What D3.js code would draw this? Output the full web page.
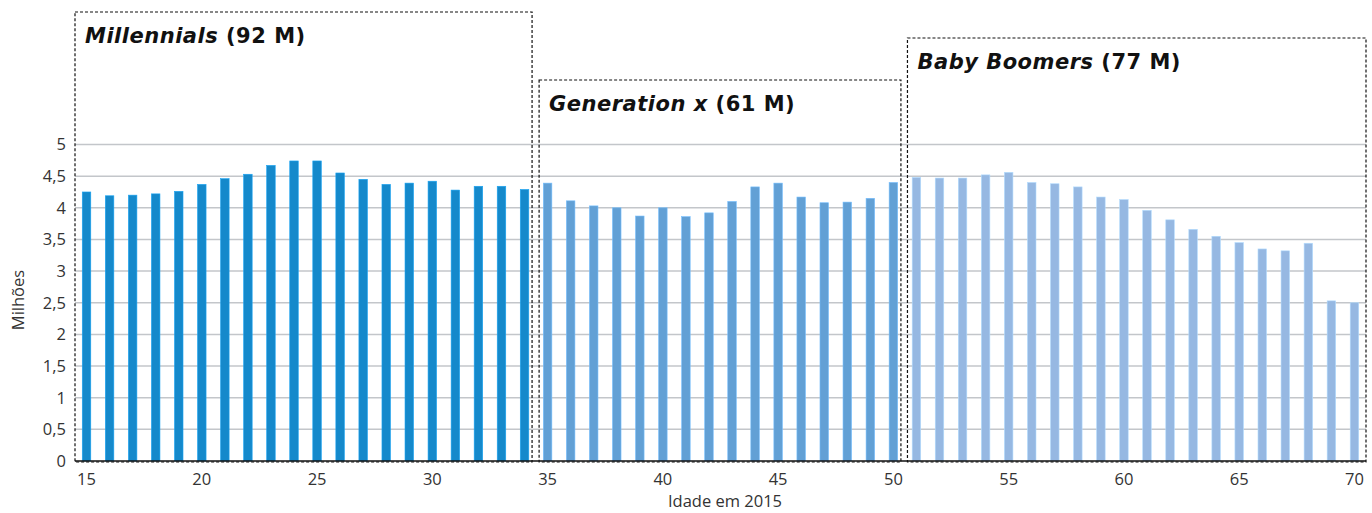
<!DOCTYPE html>
<html><head><meta charset="utf-8">
<script src="https://cdn.jsdelivr.net/npm/d3@7"></script>
<style>body{margin:0;background:#fff}svg{display:block}</style>
</head><body>
<svg id="c" width="1372" height="513"></svg>
<script>
const ages = d3.range(15, 71);
const millennials = [4.25,4.19,4.20,4.22,4.26,4.37,4.46,4.53,4.67,4.74,4.74,4.55,4.45,4.37,4.39,4.42,4.28,4.34,4.34,4.29];
const genX = [4.39,4.11,4.03,4.00,3.87,4.00,3.86,3.92,4.10,4.33,4.39,4.17,4.08,4.09,4.15,4.40];
const boomers = [4.48,4.47,4.47,4.52,4.56,4.40,4.38,4.33,4.17,4.13,3.96,3.81,3.66,3.55,3.45,3.35,3.32,3.44,2.53,2.50];
const groups = [
  {name:"Millennials", total:"(92 M)", from:15, to:34, color:"#1589cb", top:12},
  {name:"Generation x", total:"(61 M)", from:35, to:50, color:"#62a0d5", top:80},
  {name:"Baby Boomers", total:"(77 M)", from:51, to:70, color:"#96b8e2", top:38}
];
const yTicks = [0,0.5,1,1.5,2,2.5,3,3.5,4,4.5,5];
const xTicks = [15,20,25,30,35,40,45,50,55,60,65,70];

const values = millennials.concat(genX, boomers);
const data = ages.map((a,i)=>({age:a, v:values[i], g:groups.find(g=>a>=g.from&&a<=g.to)}));

const svg = d3.select("#c");
const L=75, R=1366, T=144.5, B=461;
const x = d3.scaleBand().domain(ages).range([L,R]).paddingInner(0.63).paddingOuter(0.315);
const y = d3.scaleLinear().domain([0,5]).range([B,T]);
const fmt = d => String(d).replace(".", ",");
const tickFont = "Open Sans, sans-serif";

// gridlines
svg.append("g").selectAll("line").data(yTicks.slice(1)).join("line")
  .attr("x1",L).attr("x2",R).attr("y1",d=>y(d)).attr("y2",d=>y(d))
  .attr("stroke","#c3c6ca").attr("stroke-width",1.5);

// y tick labels
svg.append("g").selectAll("text").data(yTicks).join("text")
  .attr("x",66).attr("y",d=>y(d)).attr("dy","0.36em").attr("text-anchor","end")
  .attr("font-family",tickFont).attr("font-size",16.5).attr("fill","#333")
  .text(fmt);

// bars
svg.append("g").selectAll("rect").data(data).join("rect")
  .attr("x",d=>x(d.age)).attr("width",x.bandwidth())
  .attr("y",d=>y(d.v)).attr("height",d=>B-y(d.v))
  .attr("fill",d=>d.g.color)
  .attr("stroke",d=>d3.color(d.g.color).brighter(0.5)).attr("stroke-width",0.6);

// x axis line
svg.append("line").attr("x1",L).attr("x2",R).attr("y1",B).attr("y2",B)
  .attr("stroke","#111").attr("stroke-width",1.5);

// x tick labels
svg.append("g").selectAll("text").data(xTicks).join("text")
  .attr("x",d=>x(d)+x.bandwidth()/2).attr("y",485).attr("text-anchor","middle")
  .attr("font-family",tickFont).attr("font-size",16.5).attr("fill","#333")
  .text(d=>d);

// axis titles
svg.append("text").attr("x",725).attr("y",507).attr("text-anchor","middle")
  .attr("font-family",tickFont).attr("font-size",16.5).attr("fill","#333")
  .text("Idade em 2015");
svg.append("text").attr("transform","translate(24,300) rotate(-90)").attr("text-anchor","middle")
  .attr("font-family",tickFont).attr("font-size",16.5).attr("fill","#333")
  .text("Milhões");

// group boxes
const step = x.step();
groups.forEach((g,i)=>{
  const cx0 = x(g.from)+x.bandwidth()/2, cx1 = x(g.to)+x.bandwidth()/2;
  let x0 = i===0 ? L : cx0 - step*0.5 - 0.5;
  let x1 = i===groups.length-1 ? R : cx1 + step*0.5 - 4;
  if (i===1) x0 = cx0 - 8.5;
  if (i===2) x0 = cx0 - 9;
  svg.append("rect").attr("x",x0).attr("y",g.top).attr("width",x1-x0).attr("height",B+1-g.top)
    .attr("fill","none").attr("stroke","#111").attr("stroke-width",1.2).attr("stroke-dasharray","3,2");
  const t = svg.append("text").attr("x",x0+10).attr("y",g.top+31)
    .attr("font-family","DejaVu Sans, sans-serif").attr("font-size",21).attr("font-weight",700)
    .attr("letter-spacing",0.5).attr("fill","#111");
  t.append("tspan").attr("font-style","italic").text(g.name);
  t.append("tspan").text(" "+g.total);
});
</script>
</body></html>
